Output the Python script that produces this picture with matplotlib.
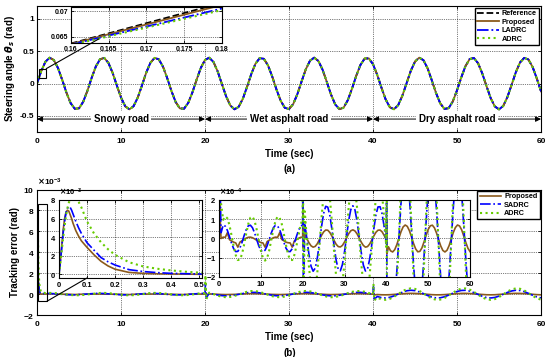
import numpy as np
import matplotlib.pyplot as plt
from matplotlib.patches import Rectangle, ConnectionPatch
from matplotlib.ticker import ScalarFormatter, FormatStrFormatter

plt.rcParams['font.family'] = ['Liberation Sans', 'DejaVu Sans']
plt.rcParams['font.weight'] = 'bold'
plt.rcParams['axes.labelweight'] = 'bold'
plt.rcParams['axes.unicode_minus'] = False
plt.rcParams['mathtext.fontset'] = 'dejavusans'

# ---------------- data ----------------
# (a) steering angle, sampled every 0.5 s from 0 to 60 s (all four curves overlap at this scale)
t_a = np.arange(0, 60.5, 0.5)
steer_ref = [
    0, 0.192, 0.337, 0.399, 0.364, 0.239, 0.056, -0.140, -0.303, -0.391,
    -0.384, -0.282, -0.112, 0.086, 0.263, 0.375, 0.396, 0.319, 0.165, -0.030,
    -0.218, -0.352, -0.400, -0.350, -0.215, -0.027, 0.168, 0.322, 0.396, 0.374,
    0.260, 0.083, -0.115, -0.285, -0.385, -0.390, -0.300, -0.137, 0.060, 0.242,
    0.365, 0.399, 0.335, 0.189, -0.004, -0.195, -0.338, -0.399, -0.362, -0.237,
    -0.053, 0.144, 0.305, 0.392, 0.383, 0.280, 0.108, -0.090, -0.265, -0.376,
    -0.395, -0.317, -0.162, 0.034, 0.221, 0.354, 0.400, 0.348, 0.212, 0.023,
    -0.171, -0.324, -0.397, -0.373, -0.257, -0.079, 0.119, 0.287, 0.386, 0.389,
    0.298, 0.134, -0.063, -0.245, -0.367, -0.398, -0.333, -0.186, 0.007, 0.198,
    0.340, 0.400, 0.361, 0.234, 0.049, -0.147, -0.307, -0.393, -0.381, -0.277,
    -0.105, 0.093, 0.268, 0.378, 0.395, 0.315, 0.158, -0.037, -0.224, -0.355,
    -0.400, -0.347, -0.209, -0.019, 0.174, 0.326, 0.397, 0.371, 0.255, 0.076,
    -0.122,
]

# (a) zoomed window values
zoom_t = [0.16, 0.18]
zoom_ref = [0.0637, 0.0716]
zoom_prop = [0.0636, 0.0712]
zoom_ladrc = [0.0635, 0.0705]
zoom_adrc = [0.0634, 0.0702]

road_edges = [0, 20, 40, 60]
road_names = ['Snowy road', 'Wet asphalt road', 'Dry asphalt road']

# (b) tracking error, units of 1e-3 rad
# start-up transient
t_fine = [0, 0.005, 0.01, 0.015, 0.02, 0.025, 0.03, 0.035, 0.04, 0.045, 0.05, 0.06, 0.07,
          0.08, 0.1, 0.125, 0.15, 0.175, 0.2, 0.25, 0.3, 0.35, 0.4, 0.45, 0.5]
prop_fine = [0, 1.5, 3.2, 4.8, 6.0, 6.7, 6.9, 6.8, 6.4, 6.0, 5.5, 4.7, 4.1,
             3.6, 2.9, 2.1, 1.4, 0.9, 0.55, 0.2, 0.1, 0.05, 0.03, 0.01, 0.0]
sadrc_fine = [0, 1.4, 3.0, 4.5, 5.7, 6.6, 7.1, 7.3, 7.2, 6.9, 6.5, 5.7, 5.0,
              4.4, 3.4, 2.6, 1.8, 1.35, 1.0, 0.5, 0.3, 0.18, 0.1, 0.06, 0.03]
adrc_fine = [0, 1.2, 2.6, 4.0, 5.2, 6.3, 7.1, 7.7, 8.1, 8.35, 8.4, 8.2, 7.8,
             7.2, 5.7, 4.4, 3.45, 2.7, 2.1, 1.3, 0.85, 0.6, 0.42, 0.28, 0.18]

# steady part, every 0.5 s from 1 s to 60 s
t_c = np.arange(1.0, 60.5, 0.5)
adrc_c = [
    0.097, 0.115, 0.105, 0.069, 0.016, -0.040, -0.087, -0.112, -0.110, -0.081,
    -0.032, 0.025, 0.076, 0.108, 0.114, 0.092, 0.047, -0.009, -0.063, -0.101,
    -0.115, -0.101, -0.062, -0.008, 0.048, 0.092, 0.114, 0.108, 0.075, 0.024,
    -0.033, -0.082, -0.111, -0.112, -0.086, -0.039, 0.017, 0.070, 0.105, 0.141,
    -0.003, -0.146, -0.254, -0.299, -0.272, -0.177, -0.040, 0.108, 0.229, 0.294,
    0.287, 0.210, 0.081, -0.067, -0.199, -0.282, -0.296, -0.238, -0.121, 0.025,
    0.165, 0.265, 0.300, 0.261, 0.159, 0.017, -0.128, -0.243, -0.298, -0.279,
    -0.193, -0.059, 0.089, 0.215, 0.289, 0.292, 0.224, 0.100, -0.048, -0.337,
    -0.504, -0.548, -0.457, -0.255, 0.010, 0.272, 0.468, 0.549, 0.496, 0.321,
    0.068, -0.202, -0.423, -0.540, -0.525, -0.381, -0.144, 0.128, 0.369, 0.519,
    0.543, 0.433, 0.218, -0.051, -0.307, -0.488, -0.550, -0.477, -0.287, -0.027,
    0.240, 0.448, 0.546, 0.510, 0.350, 0.104, -0.168, -0.399, -0.532,
]
sadrc_c = [
    0.070, 0.064, 0.042, 0.010, -0.025, -0.053, -0.068, -0.067, -0.049, -0.020,
    0.015, 0.046, 0.066, 0.069, 0.056, 0.029, -0.005, -0.038, -0.062, -0.070,
    -0.061, -0.038, -0.005, 0.029, 0.056, 0.069, 0.065, 0.046, 0.014, -0.020,
    -0.050, -0.067, -0.068, -0.053, -0.024, 0.010, 0.042, 0.064, 0.070, 0.080,
    -0.002, -0.083, -0.144, -0.170, -0.154, -0.101, -0.023, 0.061, 0.130, 0.167,
    0.163, 0.119, 0.046, -0.038, -0.113, -0.160, -0.168, -0.135, -0.069, 0.014,
    0.094, 0.150, 0.170, 0.148, 0.090, 0.010, -0.073, -0.138, -0.169, -0.158,
    -0.109, -0.034, 0.050, 0.122, 0.164, 0.165, 0.127, 0.057, -0.027, -0.227,
    -0.339, -0.369, -0.308, -0.172, 0.007, 0.183, 0.315, 0.370, 0.334, 0.216,
    0.046, -0.136, -0.284, -0.363, -0.353, -0.256, -0.097, 0.086, 0.248, 0.349,
    0.365, 0.291, 0.146, -0.034, -0.207, -0.329, -0.370, -0.321, -0.193, -0.018,
    0.161, 0.301, 0.367, 0.343, 0.236, 0.070, -0.113, -0.268, -0.358,
]
prop_c = [
    0.007, 0.006, 0.030, -0.006, -0.013, -0.019, -0.023, -0.045, -0.019, -0.012,
    -0.005, 0.002, 0.006, 0.007, 0.004, -0.002, -0.009, -0.016, -0.021, -0.023,
    -0.045, -0.016, -0.009, -0.002, 0.004, 0.007, 0.006, 0.030, -0.005, -0.012,
    -0.019, -0.022, -0.023, -0.045, -0.013, -0.006, 0.001, 0.006, 0.007, 0.021,
    0.000, -0.022, -0.038, -0.045, -0.041, -0.027, -0.006, 0.016, 0.034, 0.044,
    0.043, 0.031, 0.012, -0.010, -0.030, -0.042, -0.044, -0.036, -0.018, 0.004,
    0.025, 0.040, 0.045, 0.039, 0.024, 0.003, -0.019, -0.036, -0.045, -0.042,
    -0.029, -0.009, 0.013, 0.032, 0.043, 0.044, 0.034, 0.015, -0.007, -0.043,
    -0.064, -0.070, -0.058, -0.032, 0.001, 0.035, 0.060, 0.070, 0.063, 0.041,
    0.009, -0.026, -0.054, -0.069, -0.067, -0.049, -0.018, 0.016, 0.047, 0.066,
    0.069, 0.055, 0.028, -0.007, -0.039, -0.062, -0.070, -0.061, -0.037, -0.003,
    0.031, 0.057, 0.070, 0.065, 0.045, 0.013, -0.021, -0.051, -0.068,
]

# spikes at the road changes
t_spike = [20.05, 20.15, 40.05, 40.15]
prop_spike = [0.15, -0.05, 0.10, -0.08]
sadrc_spike = [1.0, -0.35, 0.7, -0.5]
adrc_spike = [1.8, -0.5, 1.0, -0.6]

# ---------------- assemble (b) series ----------------
t_b = np.concatenate([t_fine, t_c, t_spike])
order = np.argsort(t_b)
t_b = t_b[order]
prop_b = np.concatenate([prop_fine, prop_c, prop_spike])[order] * 1e-3
sadrc_b = np.concatenate([sadrc_fine, sadrc_c, sadrc_spike])[order] * 1e-3
adrc_b = np.concatenate([adrc_fine, adrc_c, adrc_spike])[order] * 1e-3

C_PROP = '#8B5A1C'
C_BLUE = '#0000FF'
C_GREEN = '#66CC00'


def style(ax, size, xpad=2):
    ax.tick_params(direction='in', labelsize=size, length=2.5, width=0.6,
                   top=True, right=True, pad=2)
    ax.tick_params(axis='x', pad=xpad)
    ax.grid(True, linestyle=':', color='black', linewidth=0.5)
    for sp in ax.spines.values():
        sp.set_linewidth(0.8)


def sci(ax, power, size):
    f = ScalarFormatter(useMathText=True)
    f.set_powerlimits((power, power))
    ax.yaxis.set_major_formatter(f)
    ax.yaxis.get_offset_text().set_fontsize(size)


fig = plt.figure(figsize=(5.5, 3.57), dpi=100)

# ---------------- panel (a) ----------------
ax_a = fig.add_axes([0.0673, 0.6303, 0.9164, 0.353])
ax_a.plot(t_a, steer_ref, '--', color='black', lw=1.3, label='Reference')
ax_a.plot(t_a, steer_ref, '-', color=C_PROP, lw=1.3, label='Proposed')
ax_a.plot(t_a, steer_ref, '-.', color=C_BLUE, lw=1.3, label='LADRC')
ax_a.plot(t_a, steer_ref, ':', color=C_GREEN, lw=1.5, label='ADRC')
ax_a.set_xlim(0, 60)
ax_a.set_ylim(-0.75, 1.2)
ax_a.set_xticks(range(0, 61, 10))
ax_a.set_yticks([-0.5, 0, 0.5, 1])
ax_a.yaxis.set_major_formatter(FormatStrFormatter('%g'))
style(ax_a, 6, xpad=4)
ax_a.set_xlabel('Time (sec)', fontsize=7, labelpad=3)
ax_a.set_ylabel(r'Steering angle $\theta_s$ (rad)', fontsize=7, labelpad=2)
ax_a.legend(loc='upper right', fontsize=5.2, handlelength=3, frameon=True,
            fancybox=False, edgecolor='black', framealpha=1, borderaxespad=0.3,
            labelspacing=0.2, borderpad=0.3, handletextpad=0.4)

y_road = -0.55
for i, name in enumerate(road_names):
    ax_a.annotate('', xy=(road_edges[i + 1], y_road), xytext=(road_edges[i], y_road),
                  arrowprops=dict(arrowstyle='<|-|>', color='black', lw=0.7,
                                  mutation_scale=8, shrinkA=0, shrinkB=0))
    ax_a.text((road_edges[i] + road_edges[i + 1]) / 2, y_road, name, ha='center',
              va='center', fontsize=7,
              bbox=dict(facecolor='white', edgecolor='none', pad=2))

ax_a.add_patch(Rectangle((0.2, 0.09), 0.9, 0.14, fill=False, ec='black', lw=0.8, zorder=5))

axin_a = fig.add_axes([0.129, 0.8796, 0.2745, 0.1008])
axin_a.plot(zoom_t, zoom_ref, '--', color='black', lw=1.3)
axin_a.plot(zoom_t, zoom_prop, '-', color=C_PROP, lw=1.3)
axin_a.plot(zoom_t, zoom_ladrc, '-.', color=C_BLUE, lw=1.3)
axin_a.plot(zoom_t, zoom_adrc, ':', color=C_GREEN, lw=1.5)
axin_a.set_xlim(0.16, 0.18)
axin_a.set_ylim(0.0638, 0.0708)
axin_a.set_xticks([0.16, 0.165, 0.17, 0.175, 0.18])
axin_a.set_yticks([0.065, 0.07])
axin_a.xaxis.set_major_formatter(FormatStrFormatter('%g'))
axin_a.yaxis.set_major_formatter(FormatStrFormatter('%g'))
style(axin_a, 5)
fig.add_artist(ConnectionPatch(xyA=(1.1, 0.23), coordsA='data', axesA=ax_a,
                               xyB=(0.1637, 0.0646), coordsB='data', axesB=axin_a,
                               color='black', lw=0.8))

# ---------------- panel (b) ----------------
ax_b = fig.add_axes([0.0673, 0.1176, 0.9164, 0.3515])
ax_b.plot(t_b, prop_b, '-', color=C_PROP, lw=1.2, label='Proposed')
ax_b.plot(t_b, sadrc_b, '-.', color=C_BLUE, lw=1.2, label='SADRC')
ax_b.plot(t_b, adrc_b, ':', color=C_GREEN, lw=1.5, label='ADRC')
ax_b.set_xlim(0, 60)
ax_b.set_ylim(-2e-3, 10e-3)
ax_b.set_xticks(range(0, 61, 10))
ax_b.set_yticks(np.arange(-2, 11, 2) * 1e-3)
style(ax_b, 6, xpad=4)
sci(ax_b, -3, 6)
ax_b.set_xlabel('Time (sec)', fontsize=7, labelpad=3)
ax_b.set_ylabel('Tracking error (rad)', fontsize=7, labelpad=2)
ax_b.legend(loc='upper right', fontsize=5.2, handlelength=3, frameon=True,
            fancybox=False, edgecolor='black', framealpha=1, borderaxespad=0.2,
            labelspacing=0.2, borderpad=0.3, handletextpad=0.4)
ax_b.add_patch(Rectangle((0.15, -0.7e-3), 1.0, 9.3e-3, fill=False, ec='black', lw=0.8, zorder=5))

axin_b1 = fig.add_axes([0.1073, 0.2213, 0.2595, 0.2185])
axin_b1.plot(t_b, prop_b, '-', color=C_PROP, lw=1.2)
axin_b1.plot(t_b, sadrc_b, '-.', color=C_BLUE, lw=1.2)
axin_b1.plot(t_b, adrc_b, ':', color=C_GREEN, lw=1.5)
axin_b1.set_xlim(0, 0.51)
axin_b1.set_ylim(-0.4e-3, 8e-3)
axin_b1.set_xticks([0, 0.1, 0.2, 0.3, 0.4, 0.5])
axin_b1.set_yticks(np.arange(0, 9, 2) * 1e-3)
axin_b1.xaxis.set_major_formatter(FormatStrFormatter('%g'))
style(axin_b1, 5.5, xpad=3)
sci(axin_b1, -3, 5.5)
fig.add_artist(ConnectionPatch(xyA=(1.15, -0.7e-3), coordsA='data', axesA=ax_b,
                               xyB=(0.1, -0.4e-3), coordsB='data', axesB=axin_b1,
                               color='black', lw=0.8))

axin_b2 = fig.add_axes([0.3982, 0.2241, 0.4564, 0.2157])
axin_b2.plot(t_b, prop_b, '-', color=C_PROP, lw=1.2)
axin_b2.plot(t_b, sadrc_b, '-.', color=C_BLUE, lw=1.2)
axin_b2.plot(t_b, adrc_b, ':', color=C_GREEN, lw=1.5)
axin_b2.set_xlim(0, 60)
axin_b2.set_ylim(-2e-4, 2e-4)
axin_b2.set_xticks(range(0, 61, 10))
axin_b2.set_yticks(np.arange(-2, 3, 1) * 1e-4)
style(axin_b2, 5.5, xpad=3)
sci(axin_b2, -4, 5.5)

fig.text(0.527, 0.527, '(a)', ha='center', va='center', fontsize=7)
fig.text(0.527, 0.012, '(b)', ha='center', va='center', fontsize=7)

fig.savefig('out.png', dpi=100)
